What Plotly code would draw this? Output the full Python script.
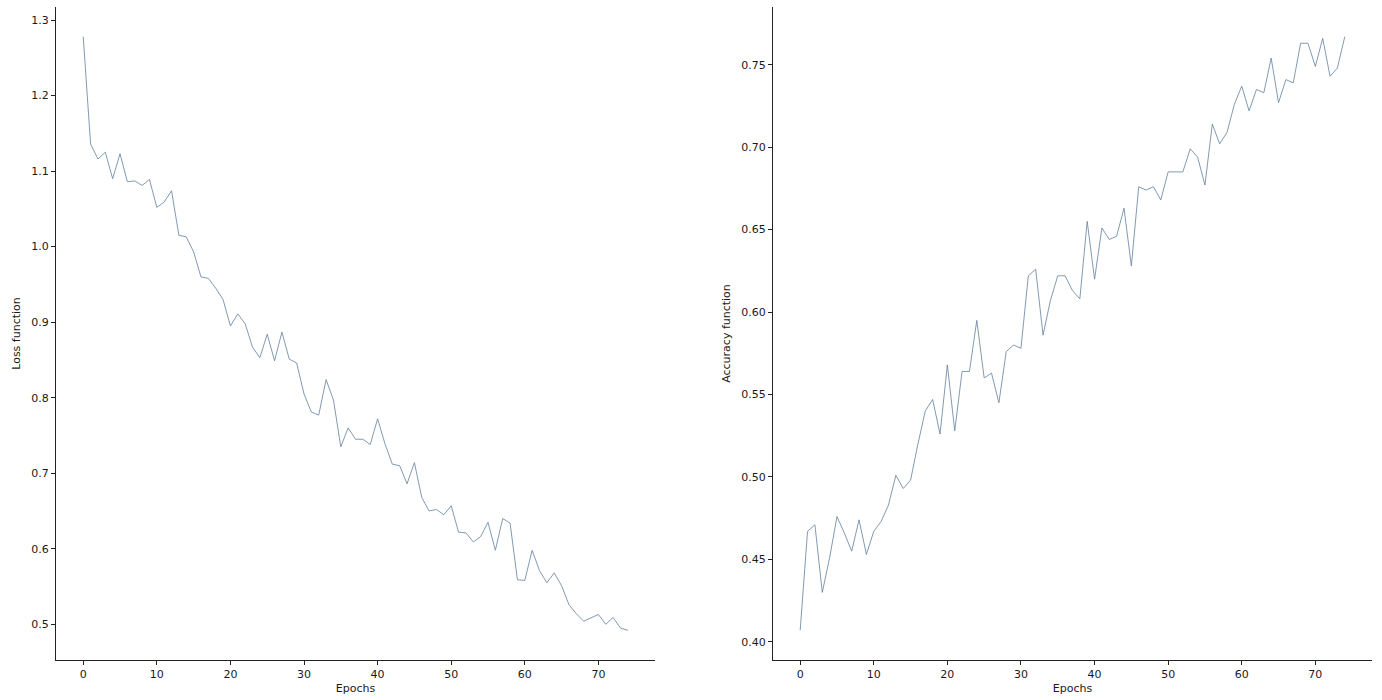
import plotly.graph_objects as go

epochs = list(range(75))
loss = [1.278, 1.136, 1.116, 1.125, 1.090, 1.123, 1.086, 1.087, 1.081, 1.089,
        1.052, 1.059, 1.074, 1.015, 1.013, 0.993, 0.960, 0.958, 0.945, 0.930,
        0.895, 0.911, 0.898, 0.867, 0.853, 0.884, 0.849, 0.887, 0.851, 0.846,
        0.805, 0.781, 0.777, 0.824, 0.797, 0.735, 0.760, 0.745, 0.745, 0.738,
        0.772, 0.739, 0.712, 0.710, 0.686, 0.714, 0.668, 0.650, 0.652, 0.645,
        0.657, 0.622, 0.621, 0.609, 0.616, 0.635, 0.598, 0.640, 0.634, 0.559,
        0.558, 0.598, 0.571, 0.555, 0.568, 0.551, 0.526, 0.514, 0.504, 0.508,
        0.513, 0.500, 0.509, 0.495, 0.492]
accuracy = [0.407, 0.467, 0.471, 0.430, 0.451, 0.476, 0.466, 0.455, 0.474, 0.453,
            0.467, 0.473, 0.483, 0.501, 0.493, 0.498, 0.520, 0.540, 0.547, 0.526,
            0.568, 0.528, 0.564, 0.564, 0.595, 0.560, 0.563, 0.545, 0.576, 0.580,
            0.578, 0.622, 0.626, 0.586, 0.607, 0.622, 0.622, 0.613, 0.608, 0.655,
            0.620, 0.651, 0.644, 0.646, 0.663, 0.628, 0.676, 0.674, 0.676, 0.668,
            0.685, 0.685, 0.685, 0.699, 0.694, 0.677, 0.714, 0.702, 0.709, 0.726,
            0.737, 0.722, 0.735, 0.733, 0.754, 0.727, 0.741, 0.739, 0.763, 0.763,
            0.749, 0.766, 0.743, 0.748, 0.767]
x_ticks = [0, 10, 20, 30, 40, 50, 60, 70]
loss_ticks = [0.5, 0.6, 0.7, 0.8, 0.9, 1.0, 1.1, 1.2, 1.3]
loss_tick_text = ["0.5", "0.6", "0.7", "0.8", "0.9", "1.0", "1.1", "1.2", "1.3"]
acc_ticks = [0.40, 0.45, 0.50, 0.55, 0.60, 0.65, 0.70, 0.75]
acc_tick_text = ["0.40", "0.45", "0.50", "0.55", "0.60", "0.65", "0.70", "0.75"]

line_color = "#62809e"

def pad(vals):
    lo, hi = min(vals), max(vals)
    m = (hi - lo) * 0.05
    return [lo - m, hi + m]

fig = go.Figure()
fig.add_trace(go.Scatter(x=epochs, y=loss, mode="lines",
                         line=dict(color=line_color, width=0.8),
                         xaxis="x", yaxis="y", showlegend=False))
fig.add_trace(go.Scatter(x=epochs, y=accuracy, mode="lines",
                         line=dict(color=line_color, width=0.8),
                         xaxis="x2", yaxis="y2", showlegend=False))

font = dict(family="DejaVu Sans", size=11, color="#1a1a1a")
axis_common = dict(showgrid=False, zeroline=False, showline=True, linecolor="#222",
                   linewidth=1, ticks="outside", ticklen=4, tickcolor="#222",
                   tickwidth=1, tickfont=font, automargin=False)

fig.update_layout(
    width=1382, height=700,
    margin=dict(l=56, r=10, t=7, b=40, autoexpand=False),
    plot_bgcolor="white", paper_bgcolor="white",
    font=font,
    xaxis=dict(domain=[0, 0.4552], range=pad(epochs), tickvals=x_ticks,
               title=dict(text="Epochs", font=font, standoff=4), anchor="y", **axis_common),
    yaxis=dict(domain=[0, 1], range=pad(loss), tickvals=loss_ticks, ticktext=loss_tick_text,
               title=dict(text="Loss function", font=font, standoff=8), anchor="x", **axis_common),
    xaxis2=dict(domain=[0.5448, 1], range=pad(epochs), tickvals=x_ticks,
                title=dict(text="Epochs", font=font, standoff=4), anchor="y2", **axis_common),
    yaxis2=dict(domain=[0, 1], range=pad(accuracy), tickvals=acc_ticks, ticktext=acc_tick_text,
                title=dict(text="Accuracy function", font=font, standoff=8), anchor="x2", **axis_common),
)

fig.write_html("out.html", config={"displayModeBar": False},
               post_script="document.body.style.margin='0';document.body.style.overflow='hidden';")
